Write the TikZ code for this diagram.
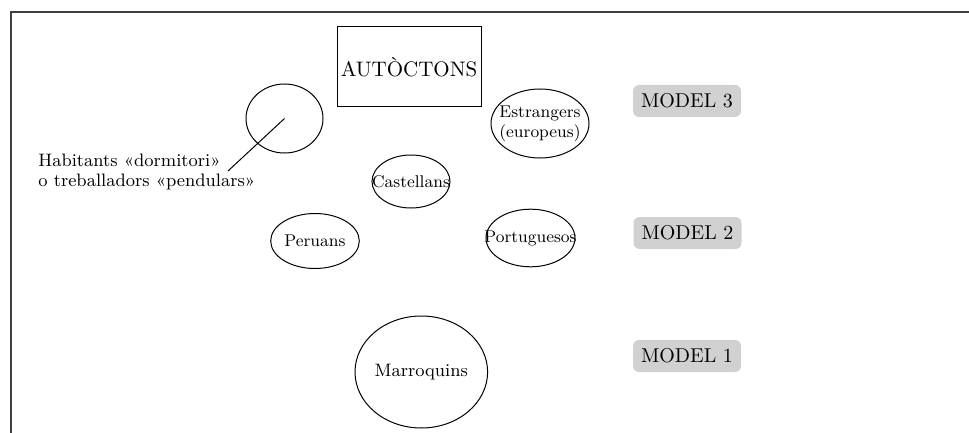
\documentclass[tikz,border=0pt]{standalone}
\usetikzlibrary{shapes}
\usetikzlibrary{calc}

\tikzset{
	grp/.style={draw, ellipse, line width=0.5pt, inner sep=0pt},
	grptext/.style={font=\fontsize{8.5}{10}\selectfont, align=center},
	model/.style={fill=black!18, rounded corners=3pt, minimum width=54pt, minimum height=16pt, inner sep=0pt}
}

\begin{document}
\begin{tikzpicture}[x=0.5pt, y=-0.5pt]
	\useasboundingbox (0,0) rectangle (969,433);
	\draw[line width=0.6pt, black!75] (969,12) -- (11,12) -- (11,433);
	\node[draw, rectangle, line width=0.5pt, inner sep=0pt, minimum width=72pt, minimum height=40pt, font=\fontsize{10.5}{12}\selectfont] (aut) at (409,67) {AUTÒCTONS};
	% groups
	\node[grp, minimum width=38.5pt, minimum height=34.5pt] (dorm) at (284.5,118.5) {};
	\node[grp, minimum width=39pt, minimum height=26.5pt, label={[grptext]center:Castellans}] (cas) at (411,181.5) {};
	\node[grp, minimum width=49pt, minimum height=34.5pt, label={[grptext]center:{Estrangers\\(europeus)}}] (est) at (540,123.5) {};
	\node[grp, minimum width=44.3pt, minimum height=27.5pt, label={[grptext]center:Peruans}] (per) at (315,241) {};
	\node[grp, minimum width=44.5pt, minimum height=28.8pt, label={[grptext]center:Portuguesos}] (por) at (530.5,238) {};
	\node[grp, minimum width=66.3pt, minimum height=56pt, label={[grptext, font=\fontsize{9}{10}\selectfont]center:Marroquins}] (mar) at (421.3,372) {};
	% models
	\node[model] (m3) at (687,101) {MODEL 3};
	\node[model] (m2) at (687.5,233) {MODEL 2};
	\node[model] (m1) at (687,356) {MODEL 1};
	% label
	\node[anchor=west, align=left, inner sep=0pt, font=\fontsize{9}{10}\selectfont] (hab) at (38,172) {Habitants «dormitori»\\o treballadors «pendulars»};
	\coordinate (tip) at (228,171);
	\draw[line width=0.5pt] (tip) -- (dorm.center);
\end{tikzpicture}
\end{document}
